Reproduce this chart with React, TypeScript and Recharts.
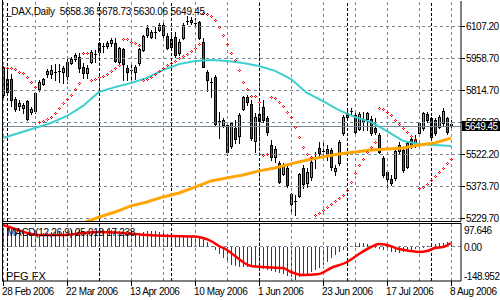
import React from 'react'
import { ComposedChart, Bar, Line, Scatter, XAxis, YAxis, ReferenceLine } from 'recharts'

// DAX daily bars, bar index 0 = 28 Feb 2006 ... 112 = 8 Aug 2006
const openP = [5915, 5806, 5865, 5774, 5742, 5732, 5764, 5714, 5719, 5819,
  5842, 5888, 5888, 5899, 5902, 5897, 5879, 5938, 5956, 5965,
  5920, 5892, 5943, 5977, 5988, 6016, 6016, 6029, 6029, 5943,
  6002, 5915, 5908, 5897, 5938, 5997, 6066, 6057, 6082, 6089,
  6112, 6061, 6011, 6057, 5984, 6052, 6128, 6125, 6123, 6125,
  6034, 5897, 5853, 5874, 5671, 5655, 5655, 5559, 5641, 5604,
  5728, 5783, 5751, 5582, 5673, 5737, 5687, 5563, 5509, 5481,
  5431, 5458, 5339, 5307, 5330, 5458, 5390, 5417, 5502, 5550,
  5534, 5545, 5541, 5445, 5481, 5618, 5691, 5721, 5700, 5637,
  5682, 5682, 5682, 5641, 5609, 5504, 5440, 5408, 5413, 5536,
  5541, 5463, 5591, 5573, 5618, 5641, 5705, 5687, 5678, 5646,
  5664, 5687, 5658.36]
const highP = [5924, 5915, 5888, 5783, 5769, 5755, 5769, 5737, 5801, 5860,
  5870, 5911, 5929, 5933, 5933, 5924, 5961, 5965, 5984, 5984,
  5938, 5929, 5997, 5997, 6034, 6029, 6039, 6052, 6052, 6011,
  6007, 5929, 5929, 5929, 6007, 6066, 6112, 6089, 6103, 6121,
  6121, 6075, 6080, 6080, 6048, 6121, 6153, 6148, 6144, 6130,
  6052, 5906, 5870, 5883, 5714, 5687, 5664, 5668, 5678, 5710,
  5787, 5792, 5769, 5710, 5746, 5769, 5696, 5586, 5559, 5490,
  5481, 5472, 5344, 5335, 5435, 5472, 5458, 5495, 5531, 5577,
  5573, 5563, 5550, 5472, 5586, 5700, 5719, 5732, 5714, 5714,
  5714, 5714, 5696, 5687, 5618, 5513, 5449, 5426, 5550, 5577,
  5550, 5582, 5600, 5609, 5668, 5714, 5714, 5691, 5687, 5700,
  5732, 5691, 5678.73]
const lowP = [5783, 5792, 5742, 5719, 5723, 5710, 5678, 5705, 5710, 5810,
  5838, 5874, 5870, 5860, 5851, 5847, 5847, 5933, 5947, 5897,
  5870, 5870, 5938, 5943, 5970, 5988, 6007, 6016, 5943, 5938,
  5860, 5860, 5860, 5865, 5929, 5993, 6057, 6052, 6052, 6084,
  6043, 6002, 6007, 5965, 5975, 6048, 6116, 6116, 6103, 6048,
  5920, 5810, 5783, 5655, 5595, 5646, 5518, 5550, 5573, 5573,
  5723, 5746, 5586, 5531, 5586, 5668, 5609, 5495, 5486, 5390,
  5426, 5371, 5253, 5243, 5326, 5367, 5371, 5403, 5458, 5509,
  5504, 5495, 5449, 5426, 5472, 5609, 5687, 5705, 5614, 5632,
  5632, 5632, 5609, 5614, 5527, 5417, 5367, 5381, 5403, 5527,
  5440, 5458, 5550, 5554, 5609, 5632, 5668, 5591, 5609, 5641,
  5655, 5614, 5630.06]
const closeP = [5792, 5865, 5769, 5728, 5755, 5746, 5682, 5728, 5801, 5851,
  5865, 5902, 5906, 5899, 5902, 5915, 5943, 5956, 5975, 5915,
  5892, 5915, 5988, 5977, 6029, 6016, 6029, 6043, 5947, 6007,
  5933, 5897, 5908, 5920, 6002, 6061, 6098, 6080, 6082, 6112,
  6066, 6007, 6048, 5975, 6034, 6112, 6128, 6135, 6123, 6052,
  5920, 5860, 5853, 5659, 5671, 5678, 5531, 5664, 5591, 5700,
  5783, 5760, 5595, 5691, 5705, 5678, 5623, 5509, 5545, 5394,
  5467, 5381, 5294, 5307, 5431, 5385, 5440, 5486, 5502, 5527,
  5534, 5513, 5463, 5458, 5577, 5691, 5710, 5721, 5623, 5705,
  5668, 5710, 5618, 5623, 5531, 5426, 5408, 5390, 5536, 5563,
  5449, 5573, 5563, 5591, 5664, 5710, 5678, 5600, 5618, 5691,
  5719, 5623, 5649.45]

// parabolic SAR, one dot per bar
const sarP = [5920, 5915, 5915, 5911, 5897, 5892, 5874, 5851, 5828,
  5668, 5673, 5682, 5691, 5710, 5732, 5755, 5774, 5792, 5819, 5847,
  5984, 5984,
  5860, 5865, 5874, 5879, 5888, 5902, 5915, 5929,
  6048, 6048, 6034, 6029, 6020,
  5860, 5865, 5874, 5888, 5902, 5915, 5929, 5938, 5947, 5961, 5970, 5979, 5993, 6007, 6025,
  6167, 6162, 6153, 6135, 6103, 6066, 6025, 5984, 5952, 5906, 5851, 5819, 5787, 5787, 5760,
  5518, 5522,
  5783, 5778, 5760, 5742, 5714, 5691, 5646, 5600, 5554, 5522, 5509,
  5243, 5253, 5266, 5280, 5294, 5307, 5321, 5335, 5358, 5394, 5435, 5472, 5499, 5531, 5554, 5577,
  5732, 5728, 5714, 5700, 5678, 5659, 5641, 5623, 5604, 5591,
  5367, 5371, 5385, 5403, 5422, 5440, 5458, 5481, 5499]

// cyan moving average, read every 4th bar
const fastIdx = [0, 4, 8, 12, 16, 20, 24, 28, 32, 36, 40, 44, 48, 52, 56, 60, 64, 68, 72, 76, 80, 84, 88, 92, 96, 100, 104, 108, 112]
const fastMa = [5595, 5618, 5641, 5664, 5696, 5742, 5806, 5828, 5847, 5870, 5906, 5933, 5947, 5952, 5947, 5938, 5924, 5902, 5865, 5801, 5764, 5723, 5691, 5668, 5627, 5582, 5568, 5563, 5559]

// orange moving average (starts below the visible range)
const slowIdx = [20, 24, 28, 32, 36, 40, 44, 48, 52, 56, 60, 64, 68, 72, 76, 80, 84, 88, 92, 96, 100, 104, 108, 112]
const slowMa = [5207, 5234, 5257, 5285, 5303, 5326, 5344, 5371, 5399, 5413, 5426, 5445, 5458, 5477, 5495, 5509, 5522, 5531, 5541, 5545, 5550, 5563, 5573, 5595]

// MACD(12,26,9) main histogram per bar
const macdMain = [84, 84, 80, 75, 71, 66, 62, 57, 57, 57,
  62, 62, 66, 66, 71, 71, 75, 75, 75, 75,
  71, 71, 71, 71, 75, 75, 75, 75, 75, 71,
  66, 62, 57, 57, 62, 66, 71, 71, 71, 66,
  62, 57, 53, 48, 48, 48, 48, 48, 48, 44,
  35, 22, 4, -14, -32, -50, -68, -82, -86, -91,
  -91, -91, -91, -91, -95, -100, -104, -108, -113, -117,
  -122, -131, -135, -148.952, -135, -126, -122, -113, -104, -95,
  -82, -68, -50, -37, -23, -14, -5, 4, 13, 17,
  17, 13, 4, -5, -10, -14, -19, -23, -23, -28,
  -23, -19, -14, -10, -5, -1, 4, 8, 13, 17,
  17, 22, 25.018]
const sigIdx = [0, 3, 6, 9, 15, 20, 24, 30, 36, 42, 48, 50, 52, 54, 56, 58, 60, 62, 65, 70, 72, 75, 79, 82, 86, 89, 92, 94, 96, 99, 102, 104, 106, 108, 110, 112]
const macdSig = [97.6, 79.8, 61.9, 52.9, 52.9, 61.9, 66.4, 61.9, 52.9, 48.4, 46, 39.5, 26, 3.6, -14.3, -41.3, -68.1, -86.1, -90.6, -95.1, -113, -126.4, -122, -95.1, -68.1, -32.3, -0.9, 12.6, 8.1, -9.9, -18.8, -23.3, -18.8, -5.4, -0.9, 17.238]

const dateIdx = [0, 16, 32, 48, 64, 80, 96, 112]
const dateLabels = ['28 Feb 2006', '22 Mar 2006', '13 Apr 2006', '10 May 2006', '1 Jun 2006', '23 Jun 2006', '17 Jul 2006', '8 Aug 2006']
const gridIdx = [0, 8, 16, 24, 32, 40, 48, 56, 64, 72, 80, 88, 96, 104, 112]
const monthIdx = [1, 24, 42, 64, 86, 107]
const priceTicks = [6107.2, 5958.7, 5814.7, 5666.2, 5522.2, 5373.7, 5229.7]
const macdTicks = [97.646, 0, -148.952]
const lastClose = 5649.45

const FONT = '"Liberation Sans", Arial, sans-serif'
const GRID = '#778899'
const BULL = '#22e022'
const BEAR = '#e81818'
const X_DOMAIN = [-0.25, 114.5]

const pick = (idx: number[], vals: number[], i: number) => {
  const k = idx.indexOf(i)
  return k < 0 ? null : vals[k]
}

const rows = openP.map((o, i) => ({
  i, o, h: highP[i], l: lowP[i], c: closeP[i],
  sar: sarP[i],
  fast: pick(fastIdx, fastMa, i),
  slow: pick(slowIdx, slowMa, i),
  hist: macdMain[i],
  sig: pick(sigIdx, macdSig, i),
}))

function Candle(p: any) {
  const { x, y, width, height, payload } = p
  if (x == null || y == null || !payload) return null
  const { o, h, l, c } = payload
  const top = Math.min(y, y + height)
  const bot = Math.max(y, y + height)
  const k = h > l ? (bot - top) / (h - l) : 0
  const at = (v: number) => top + (h - v) * k
  const px = Math.round(x + width / 2) + 0.5
  const y1 = Math.round(Math.min(at(o), at(c))) + 0.5
  const y2 = Math.round(Math.max(at(o), at(c))) + 0.5
  return (
    <g shapeRendering="crispEdges">
      <line x1={px} x2={px} y1={Math.round(top)} y2={Math.round(bot) + 1} stroke="#000" />
      {o === c
        ? <line x1={px - 1.5} x2={px + 1.5} y1={y1} y2={y1} stroke="#000" />
        : <rect x={px - 1} y={y1} width={2} height={Math.max(y2 - y1, 1)} fill={c > o ? BULL : BEAR} stroke="#000" />}
    </g>
  )
}

// small hollow diamond, 4 pixels round the centre
function SarDot(p: any) {
  const { cx, cy } = p
  if (cx == null || cy == null) return null
  const x = Math.round(cx)
  const y = Math.round(cy)
  return (
    <g fill="#ff0000" shapeRendering="crispEdges">
      <rect x={x} y={y - 1} width={1} height={1} />
      <rect x={x - 1} y={y} width={1} height={1} />
      <rect x={x + 1} y={y} width={1} height={1} />
      <rect x={x} y={y + 1} width={1} height={1} />
    </g>
  )
}

function HistBar(p: any) {
  const { x, y, width, height } = p
  if (x == null || y == null) return null
  const px = Math.round(x + width / 2)
  const a = Math.round(Math.min(y, y + height))
  const b = Math.round(Math.max(y, y + height))
  return <rect x={px} y={a} width={1} height={Math.max(b - a, 1)} fill="#006400" shapeRendering="crispEdges" />
}

function PriceTick(p: any) {
  const v = p.payload?.value
  const y = Math.round(p.y)
  if (v === lastClose) {
    return (
      <g>
        <rect x={462} y={y - 5} width={38} height={10} fill="#000" />
        <text x={465} y={y + 4} fill="#fff" fontSize={10} fontFamily={FONT} letterSpacing={-0.5}>{v.toFixed(2)}</text>
      </g>
    )
  }
  return (
    <g>
      <line x1={461} x2={465} y1={y + 0.5} y2={y + 0.5} stroke="#000" />
      <text x={466} y={y + 4} fill="#000" fontSize={10} fontFamily={FONT} letterSpacing={-0.5}>{v.toFixed(2)}</text>
    </g>
  )
}

function MacdTick(p: any) {
  const v = p.payload?.value
  const shift = v > 0 ? 9 : v < 0 ? -0.5 : 3.5
  const label = v === 0 ? '0.00' : String(v)
  return (
    <text x={464} y={Math.round(p.y) + shift} fill="#000" fontSize={10} fontFamily={FONT} letterSpacing={-0.5}>{label}</text>
  )
}

function DateTick(p: any) {
  const k = dateIdx.indexOf(p.payload?.value)
  const x = Math.round(p.x) + 0.5
  return (
    <g>
      <line x1={x} x2={x} y1={59} y2={64} stroke="#000" />
      <text x={x - 1.5} y={73} fill="#000" fontSize={10} fontFamily={FONT} letterSpacing={-0.4}>{dateLabels[k]}</text>
    </g>
  )
}

function vGrid() {
  return [
    ...gridIdx.map(i => (
      <ReferenceLine key={'g' + i} x={i} stroke={GRID} strokeDasharray="3 3" shapeRendering="crispEdges" />
    )),
    ...monthIdx.map(i => (
      <ReferenceLine key={'m' + i} x={i} stroke="#000" strokeDasharray="3 2" shapeRendering="crispEdges" />
    )),
  ]
}

export default function App() {
  return (
    <div style={{ position: 'absolute', left: 0, top: 0, width: 500, height: 300, background: '#fff', overflow: 'hidden' }}>
      <div style={{ position: 'absolute', left: 0, top: 0 }}>
        <ComposedChart width={500} height={230} data={rows} margin={{ top: 1, right: 0, bottom: 9, left: 2 }}>
          <XAxis dataKey="i" type="number" domain={X_DOMAIN} allowDataOverflow hide ticks={gridIdx} />
          <YAxis orientation="right" width={39} domain={[5216, 6221.5]} allowDataOverflow
            ticks={[...priceTicks, lastClose]} interval={0} tickLine={false}
            axisLine={{ stroke: '#000' }} tick={<PriceTick />} />
          {priceTicks.map(v => (
            <ReferenceLine key={'h' + v} y={v} stroke={GRID} strokeDasharray="3 3" shapeRendering="crispEdges" />
          ))}
          {vGrid()}
          <ReferenceLine y={lastClose} stroke={GRID} shapeRendering="crispEdges" />
          <Bar dataKey={(d: any) => [d.l, d.h]} barSize={3} shape={(p: any) => <Candle {...p} />} isAnimationActive={false} />
          <Line dataKey="fast" type="linear" stroke="#3ccfcf" strokeWidth={2} dot={false} connectNulls isAnimationActive={false} />
          <Line dataKey="slow" type="linear" stroke="#ffa500" strokeWidth={3} dot={false} connectNulls isAnimationActive={false} />
          <Scatter dataKey="sar" shape={(p: any) => <SarDot {...p} />} isAnimationActive={false} />
        </ComposedChart>
      </div>
      <div style={{ position: 'absolute', left: 0, top: 222 }}>
        <ComposedChart width={500} height={78} data={rows} margin={{ top: 1, right: 0, bottom: 0, left: 2 }}>
          <XAxis dataKey="i" type="number" domain={X_DOMAIN} allowDataOverflow ticks={dateIdx} interval={0}
            height={19} axisLine={{ stroke: '#000' }} tickLine={false} tick={<DateTick />} />
          <YAxis orientation="right" width={39} domain={[-153.4, 106.7]} allowDataOverflow
            ticks={macdTicks} interval={0} tickLine={false} axisLine={{ stroke: '#000' }} tick={<MacdTick />} />
          {vGrid()}
          <ReferenceLine y={0} stroke={GRID} strokeDasharray="3 3" shapeRendering="crispEdges" />
          <Bar dataKey="hist" barSize={1} shape={(p: any) => <HistBar {...p} />} isAnimationActive={false} />
          <Line dataKey="sig" type="monotone" stroke="#ff0000" strokeWidth={2.5} dot={false} connectNulls isAnimationActive={false} />
        </ComposedChart>
      </div>
      <svg width={500} height={300} style={{ position: 'absolute', left: 0, top: 0, pointerEvents: 'none' }}>
        <line x1={2.5} x2={2.5} y1={0} y2={281} stroke="#000" />
        <line x1={2} x2={461} y1={221.5} y2={221.5} stroke="#000" />
        <line x1={2} x2={461} y1={223.5} y2={223.5} stroke="#000" />
        <text x={6} y={15} fill="#000" fontSize={10} fontFamily={FONT} letterSpacing={-0.25} style={{ whiteSpace: 'pre' }}>
          {'_DAX,Daily  5658.36 5678.73 5630.06 5649.45'}
        </text>
        <text x={7} y={235.5} fill="#000" fontSize={10} fontFamily={FONT} letterSpacing={-0.3}>
          MACD(12,26,9) 25.018 17.238
        </text>
        <text x={6} y={280} fill="#000" fontSize={11} fontFamily={FONT}>PFG FX</text>
      </svg>
    </div>
  )
}
